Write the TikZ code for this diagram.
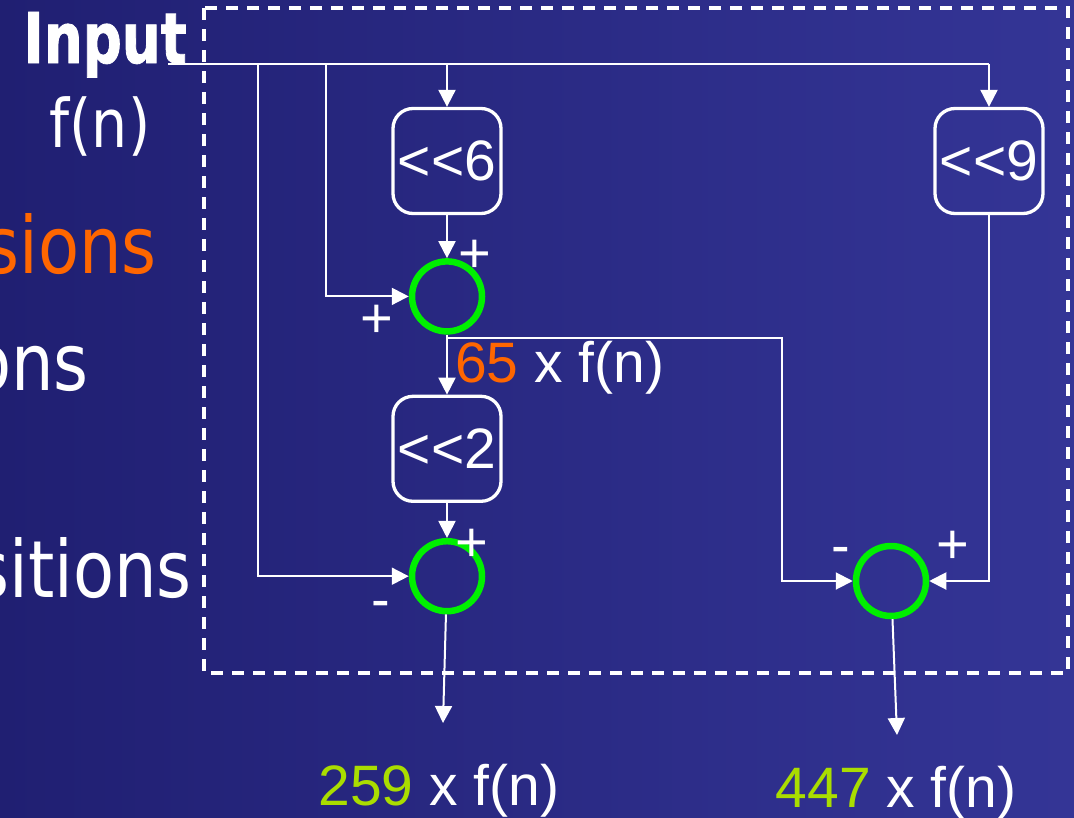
\documentclass[tikz,border=0pt]{standalone}
\usepackage{fontspec}
\usepackage{xcolor}
\usetikzlibrary{arrows.meta,positioning}
\setmainfont{Liberation Sans}
\newfontfamily\slidesans{DejaVu Sans}[FakeStretch=0.85,BoldFeatures={FakeStretch=0.78,FakeBold=1.2}]
\definecolor{slideleft}{RGB}{32,31,114}
\definecolor{slideright}{RGB}{52,53,150}
\definecolor{sumgreen}{RGB}{0,240,0}
\definecolor{hiorange}{RGB}{255,102,0}
\definecolor{hilime}{RGB}{170,221,0}
\tikzset{
  shifter/.style={draw=white, line width=3.3pt, rounded corners=20pt, minimum width=108pt,
              minimum height=105pt, inner sep=0pt, text=white, font=\fontsize{57}{60}\selectfont},
  summer/.style={draw=sumgreen, circle, line width=6.5pt, minimum size=70pt, inner sep=0pt},
  sgn/.style={text=white, inner sep=0pt, font=\fontsize{56}{60}\selectfont},
  res/.style={text=white, inner sep=0pt, font=\fontsize{57}{60}\selectfont},
  side/.style={text=white, inner sep=0pt, font=\slidesans\fontsize{79}{80}\selectfont},
  frame/.style={draw=white, line width=3.2pt, dash pattern=on 12pt off 9pt},
  wire/.style={draw=white, line width=2pt},
  flow/.style={wire, -{Triangle[length=17pt,width=17pt]}},
}

\begin{document}
\begin{tikzpicture}[x=1pt, y=-1pt]
  \useasboundingbox (0,0) rectangle (1074,817);
  \shade[left color=slideleft, right color=slideright] (0,0) rectangle (1074,817);

  % slide text, cut off at the left edge
  \node[side, font=\slidesans\bfseries\fontsize{70}{72}\selectfont, anchor=base east] (inlbl) at (187,63) {Input};
  \node[side, font=\slidesans\fontsize{67}{70}\selectfont, anchor=base] (fn) at (100,147) {f(n)};
  \node[side, text=hiorange, anchor=base east] (ln1) at (157,273) {sions};
  \node[side, anchor=base east] (ln2) at (89,390) {ons};
  \node[side, anchor=base east] (ln3) at (192,597) {sitions};

  \draw[frame] (204,8) rectangle (1068,673);

  \node[shifter] (sh6) at (447,161) {<{}<6};
  \node[summer, below=43pt of sh6] (add1) {};
  \node[shifter, below=60pt of add1] (sh2) {<{}<2};
  \node[summer, below=35pt of sh2] (sub2) {};
  \node[shifter] (sh9) at (989,161) {<{}<9};
  \node[summer] (sub3) at (891,581) {};

  \coordinate (inp) at (168,64);
  \coordinate (tapA) at (258,64);
  \coordinate (tapB) at (326,64);
  \coordinate (tap65) at (447,338);
  \coordinate (o259) at (443,723);
  \coordinate (o447) at (897,735);

  \draw[wire] (inp) -- (sh9 |- inp);
  \draw[flow] (sh6 |- inp) -- (sh6);
  \draw[flow] (sh9 |- inp) -- (sh9);
  \draw[flow] (tapB) |- (add1);
  \draw[flow] (tapA) |- (sub2);
  \draw[flow] (sh6) -- (add1);
  \draw[flow] (add1) -- (sh2);
  \draw[flow] (sh2) -- (sub2);
  \draw[flow] (tap65) -- ++(335,0) |- (sub3);
  \draw[flow] (sh9) |- (sub3);
  \draw[flow] (sub2) -- (o259);
  \draw[flow] (sub3) -- (o447);

  % signs at the adder inputs
  \node[sgn] (p1a) at (475,256) {+};
  \node[sgn] (p1b) at (377,321) {+};
  \node[sgn] (p2a) at (472,545) {+};
  \node[sgn] (m2b) at (381,610) {-};
  \node[sgn] (m3a) at (841,556) {-};
  \node[sgn] (p3b) at (953,547) {+};

  \node[res, anchor=base west] (r65) at (455,382) {\textcolor{hiorange}{65} x f(n)};
  \node[res, anchor=base] (r259) at (439,805) {\textcolor{hilime}{259} x f(n)};
  \node[res, anchor=base] (r447) at (896,807) {\textcolor{hilime}{447} x f(n)};
\end{tikzpicture}
\end{document}
